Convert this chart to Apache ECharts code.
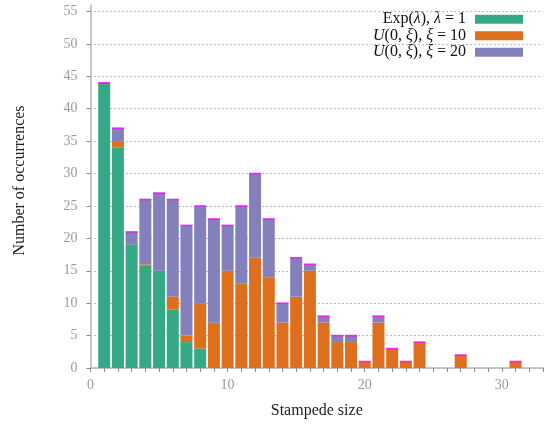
<!DOCTYPE html>
<html>
<head>
<meta charset="utf-8">
<script src="https://cdn.jsdelivr.net/npm/echarts@6/dist/echarts.min.js"></script>
<style>html,body{margin:0;padding:0;background:#fff}#c{width:547px;height:424px}</style>
</head>
<body>
<div id="c"></div>
<script>
// Data
const xCategories = ['0','1','2','3','4','5','6','7','8','9','10','11','12','13','14','15','16','17','18','19','20','21','22','23','24','25','26','27','28','29','30','31','32','33'];
const sizes = [1,2,3,4,5,6,7,8,9,10,11,12,13,14,15,16,17,18,19,20,21,22,23,24,25,26,27,28,29,30,31];
const expValues = [44,34,19,15.75,15,9,4,3,0,0,0,0,0,0,0,0,0,0,0,0,0,0,0,0,0,0,0,0,0,0,0];
const u10Values = [0,1,0,0.25,0,2,1,7,7,15,13,17,14,7,11,15,7,4,4,1,7,3,1,4,0,0,2,0,0,0,1];
const u20Values = [0,2,2,10,12,15,17,15,16,7,12,13,9,3,6,1,1,1,1,0,1,0,0,0,0,0,0,0,0,0,0];
const seriesNames = ['Exp(λ), λ = 1', 'U(0, ξ), ξ = 10', 'U(0, ξ), ξ = 20'];
const legendRich = [
  '{r|Exp(}{i|λ}{r|), }{i|λ}{r| = 1}',
  '{i|U}{r|(0, }{i|ξ}{r|), }{i|ξ}{r| = 10}',
  '{i|U}{r|(0, }{i|ξ}{r|), }{i|ξ}{r| = 20}'
];
const yTicks = [0,5,10,15,20,25,30,35,40,45,50,55];
const xLabelValues = ['0','10','20','30'];

const colors = ['#35a985', '#de6f1d', '#8480bc'];
const SERIF = '"Liberation Serif", "DejaVu Serif", serif';

// map values onto the category axis
const onAxis = arr => xCategories.map(c => {
  const i = sizes.indexOf(Number(c));
  return i >= 0 ? arr[i] : 0;
});
const totalsAll = xCategories.map((c, k) => onAxis(expValues)[k] + onAxis(u10Values)[k] + onAxis(u20Values)[k]);
const caps = totalsAll.map(t => (t > 0 ? t : '-'));

const chart = echarts.init(document.getElementById('c'), null, {renderer: 'canvas'});
chart.setOption({
  animation: false,
  backgroundColor: '#fff',
  grid: {left: 90.5, right: 4, top: 5, bottom: 56, containLabel: false},
  legend: {
    orient: 'vertical',
    right: 19,
    top: 6,
    align: 'right',
    itemWidth: 48,
    itemHeight: 9,
    itemGap: 0,
    icon: 'rect',
    data: seriesNames,
    formatter: name => legendRich[seriesNames.indexOf(name)],
    textStyle: {
      color: '#111',
      fontFamily: SERIF,
      fontSize: 16,
      lineHeight: 16.5,
      padding: [0, 4, 0, 0],
      rich: {
        r: {fontFamily: SERIF, fontSize: 16, color: '#111', lineHeight: 16.5},
        i: {fontFamily: SERIF, fontSize: 16, fontStyle: 'italic', color: '#111', lineHeight: 16.5}
      }
    }
  },
  xAxis: {
    type: 'category',
    data: xCategories,
    boundaryGap: false,
    name: 'Stampede size',
    nameLocation: 'middle',
    nameGap: 35,
    nameTextStyle: {fontFamily: SERIF, fontSize: 16, color: '#222'},
    axisLine: {show: true, lineStyle: {color: '#b5b5b5', width: 1.5}},
    axisTick: {show: true, interval: 0, length: 4, lineStyle: {color: '#8a8a8a', width: 1}},
    axisLabel: {
      margin: 10,
      interval: 0,
      fontFamily: SERIF, fontSize: 14, color: '#9a9a9a',
      formatter: v => (xLabelValues.indexOf(v) >= 0 ? v : '')
    },
    splitLine: {show: false}
  },
  yAxis: {
    type: 'value',
    min: 0,
    max: 56,
    interval: 5,
    name: 'Number of occurrences',
    nameLocation: 'middle',
    nameGap: 63,
    nameRotate: 90,
    nameTextStyle: {fontFamily: SERIF, fontSize: 16, color: '#222', padding: [0, 0, 0, 12]},
    axisLine: {show: true, lineStyle: {color: '#b5b5b5', width: 1.5}},
    axisTick: {show: true, length: 4, customValues: yTicks, lineStyle: {color: '#8a8a8a', width: 1}},
    axisLabel: {margin: 13, customValues: yTicks, fontFamily: SERIF, fontSize: 14, color: '#9a9a9a'},
    splitLine: {show: true, lineStyle: {color: '#a8a8a8', type: [1.5, 2.5], width: 1}}
  },
  series: [
    {name: seriesNames[0], type: 'bar', stack: 'all', barWidth: 12, data: onAxis(expValues), itemStyle: {color: colors[0]}},
    {name: seriesNames[1], type: 'bar', stack: 'all', barWidth: 12, data: onAxis(u10Values), itemStyle: {color: colors[1]}},
    {name: seriesNames[2], type: 'bar', stack: 'all', barWidth: 12, data: onAxis(u20Values), itemStyle: {color: colors[2]}},
    {name: 'cap', type: 'scatter', symbol: 'rect', symbolSize: [12, 1.6], data: caps,
     itemStyle: {color: '#ff00ff'}, z: 5, silent: true}
  ]
});
</script>
</body>
</html>
